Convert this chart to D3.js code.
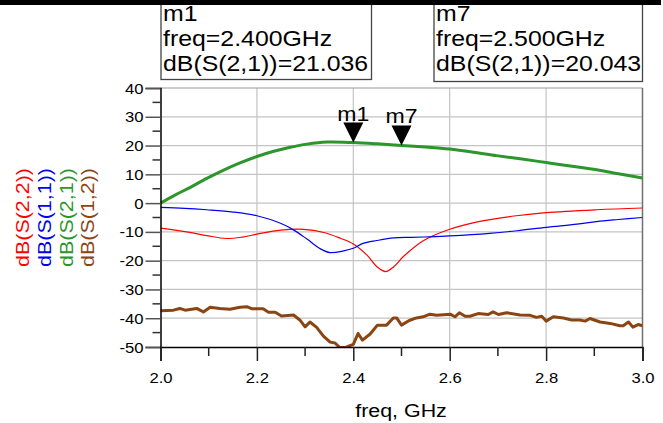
<!DOCTYPE html>
<html><head><meta charset="utf-8">
<script src="https://cdn.jsdelivr.net/npm/d3@7/dist/d3.min.js"></script>
<style>body{margin:0;background:#fff;overflow:hidden}svg{display:block}text{font-family:"Liberation Sans",Arial,sans-serif}</style>
</head><body><svg id="c" width="663" height="423"></svg>
<script>
// ---- data ----
const s21Freq = [2.0,2.03,2.061,2.096,2.131,2.165,2.2,2.235,2.269,2.304,2.345,2.4,2.45,2.5,2.55,2.6,2.65,2.697,2.75,2.8,2.85,2.905,2.95,3.0];
const s21 =     [0,2.8,5.4,8.6,11.5,14.0,16.2,18.0,19.4,20.5,21.2,21.036,20.6,20.043,19.5,18.8,17.7,16.5,15.3,14.1,12.9,11.6,10.2,8.7];
const s11Freq = [2.0,2.05,2.096,2.151,2.2,2.249,2.276,2.304,2.332,2.352,2.38,2.4,2.42,2.449,2.484,2.52,2.56,2.6,2.683,2.74,2.8,2.864,2.905,2.95,3.0];
const s11 =     [-1.5,-1.8,-2.3,-3.1,-4.4,-7.0,-9.3,-12.5,-15.9,-17.2,-16.6,-15.7,-14.0,-13.0,-12.1,-11.9,-11.7,-11.4,-10.5,-9.6,-8.4,-7.3,-6.4,-5.7,-5.0];
const s22Freq = [2.0,2.061,2.096,2.137,2.17,2.2,2.249,2.297,2.339,2.373,2.4,2.428,2.449,2.467,2.484,2.505,2.546,2.6,2.655,2.738,2.8,2.905,3.0];
const s22 =     [-8.7,-10.2,-11.3,-12.3,-11.8,-10.8,-9.4,-9.1,-10.2,-12.2,-14.2,-18.0,-22.1,-23.8,-22.1,-18.4,-13.0,-9.1,-6.6,-4.4,-3.3,-2.3,-1.7];
const s12Freq = [2.000,2.027,2.040,2.051,2.075,2.089,2.103,2.123,2.144,2.165,2.179,2.189,2.213,2.224,2.238,2.251,2.276,2.289,2.300,2.310,2.324,2.338,2.352,2.362,2.372,2.383,2.393,2.400,2.410,2.419,2.435,2.450,2.469,2.483,2.490,2.500,2.516,2.531,2.545,2.559,2.573,2.601,2.611,2.620,2.632,2.642,2.659,2.680,2.690,2.701,2.718,2.746,2.767,2.780,2.791,2.800,2.815,2.836,2.853,2.870,2.881,2.891,2.912,2.933,2.953,2.960,2.971,2.980,2.991,3.000];
const s12 =     [-37.4,-37.2,-36.6,-37.2,-36.6,-37.8,-36.2,-36.6,-36.9,-36.2,-36.0,-36.7,-36.7,-37.9,-37.9,-39.2,-38.9,-40.6,-43.0,-41.3,-43.2,-46.2,-48.3,-48.6,-50.2,-50.2,-49.5,-49.1,-45.3,-47.6,-45.5,-42.4,-42.4,-39.9,-39.9,-42.4,-40.8,-39.9,-39.5,-38.6,-39.0,-38.6,-39.5,-38.1,-39.3,-39.3,-38.4,-38.7,-37.8,-38.7,-38.1,-38.9,-39.0,-39.7,-39.3,-41.0,-39.5,-39.9,-40.6,-40.6,-41.0,-40.1,-41.3,-41.8,-42.6,-42.6,-41.3,-43.1,-42.2,-42.6];
const seriesNames = ["dB(S(2,2))","dB(S(1,1))","dB(S(2,1))","dB(S(1,2))"];
const seriesColors = ["#ff0000","#0000ee","#2c962c","#8b4513"];
const xTicks = [2.0,2.2,2.4,2.6,2.8,3.0];
const yTicks = [40,30,20,10,0,-10,-20,-30,-40,-50];
const markers = [{name:"m1",freq:2.4,val:21.036,label:"freq=2.400GHz",vlabel:"dB(S(2,1))=21.036"},
                 {name:"m7",freq:2.5,val:20.043,label:"freq=2.500GHz",vlabel:"dB(S(2,1))=20.043"}];

// ---- layout ----
const svg = d3.select("#c");
const L=160.5, R=642.5, T=88, B=347;
const x = d3.scaleLinear().domain([2,3]).range([L,R]);
const y = d3.scaleLinear().domain([-50,40]).range([B,T]);
function txt(g, px, py, s, size, anchor, color, rot, sx){
  const t = g.append("text").attr("transform",`translate(${px},${py})${rot?` rotate(${rot})`:""} scale(${sx||1.19},1)`)
    .attr("font-size",size).attr("text-anchor",anchor||"start").attr("fill",color||"#000").text(s);
  return t;
}

// top bar
svg.append("rect").attr("x",0).attr("y",0).attr("width",661).attr("height",5).attr("fill","#000");

// grid
const grid = svg.append("g");
grid.selectAll(".gx").data(xTicks.slice(1,-1)).join("line")
  .attr("x1",d=>x(d)).attr("x2",d=>x(d)).attr("y1",T).attr("y2",B).attr("stroke","#c4c4c4").attr("stroke-width",1.2);
grid.selectAll(".gy").data(yTicks.slice(1,-1)).join("line")
  .attr("x1",L).attr("x2",R).attr("y1",d=>y(d)).attr("y2",d=>y(d)).attr("stroke","#c4c4c4").attr("stroke-width",1.2);
// frame top/right
svg.append("line").attr("x1",L).attr("x2",R).attr("y1",T).attr("y2",T).attr("stroke","#9a9a9a").attr("stroke-width",1.2);
svg.append("line").attr("x1",R).attr("x2",R).attr("y1",T).attr("y2",B).attr("stroke","#707070").attr("stroke-width",1.5);

// clip
svg.append("clipPath").attr("id","clip").append("rect").attr("x",L).attr("y",T-2).attr("width",R-L).attr("height",B-T+3);
const plot = svg.append("g").attr("clip-path","url(#clip)");
function drawLine(fr, vals, color, w, curve){
  const pts = fr.map((f,i)=>[f,vals[i]]);
  const line = d3.line().x(d=>x(d[0])).y(d=>y(d[1])).curve(curve);
  plot.append("path").attr("d",line(pts)).attr("fill","none").attr("stroke",color).attr("stroke-width",w).attr("stroke-linejoin","round");
}
const smooth = d3.curveCatmullRom.alpha(0.5);
drawLine(s22Freq,s22,seriesColors[0],1.2,smooth);
drawLine(s11Freq,s11,seriesColors[1],1.2,smooth);
drawLine(s12Freq,s12,seriesColors[3],3,d3.curveLinear);
drawLine(s21Freq,s21,seriesColors[2],3,smooth);

// axes
const yAxis = d3.axisLeft(y).tickValues(yTicks).tickSize(15).tickFormat(d3.format("d"));
const gy = svg.append("g").attr("transform",`translate(${L},0)`).call(yAxis);
gy.select(".domain").attr("stroke","#000").attr("stroke-width",1.5);
gy.selectAll(".tick line").attr("stroke","#555").attr("stroke-width",1.5);
gy.selectAll(".tick text").remove();
gy.selectAll(".tick").each(function(d){ txt(d3.select(this), -17, 5, String(d), 14, "end"); });
const yMinor = d3.range(-45,40,10);
svg.append("g").selectAll("line").data(yMinor).join("line").attr("x1",L-8).attr("x2",L).attr("y1",d=>y(d)).attr("y2",d=>y(d)).attr("stroke","#333").attr("stroke-width",1.5);

const xAxis = d3.axisBottom(x).tickValues(xTicks).tickSize(14).tickFormat(d3.format(".1f"));
const gx = svg.append("g").attr("transform",`translate(0,${B})`).call(xAxis);
gx.select(".domain").attr("stroke","#000").attr("stroke-width",1.5);
gx.selectAll(".tick line").attr("stroke","#222").attr("stroke-width",1.5);
gx.selectAll(".tick text").remove();
gx.selectAll(".tick").each(function(d){ txt(d3.select(this), 0, 36, d3.format(".1f")(d), 14, "middle"); });
svg.append("g").selectAll("line").data(d3.range(2.1,3.0,0.2)).join("line").attr("x1",d=>x(d)).attr("x2",d=>x(d)).attr("y1",B).attr("y2",B+9).attr("stroke","#222").attr("stroke-width",1.5);

// axis title
txt(svg, 401, 417, "freq, GHz", 18, "middle");

// legend (rotated)
const legX = [23,45,67,88];
seriesNames.forEach((n,i)=>{
  const t = txt(svg, legX[i], 217.5, n, 18.5, "middle", seriesColors[i], -90, 1.16);
  t.attr("dy","0.35em");
});

// markers on plot
markers.forEach(m=>{
  const px = x(m.freq), py = y(m.val);
  svg.append("path").attr("d",`M${px},${py} L${px-10},${py-20} L${px+10},${py-20} Z`).attr("fill","#000");
  txt(svg, px, py-22, m.name, 21, "middle", "#000", 0, 1.1);
});

// marker readout boxes
const boxes = [{x0:161,x1:371.5,y1:79.5},{x0:434,x1:642.5,y1:81.5}];
markers.forEach((m,i)=>{
  const b = boxes[i];
  svg.append("rect").attr("x",b.x0).attr("y",-2).attr("width",b.x1-b.x0).attr("height",b.y1+2).attr("fill","#fff").attr("stroke","#444").attr("stroke-width",1.3);
  const g = svg.append("g");
  txt(g, b.x0+2, 20.8, m.name, 22, "start", "#000", 0, 1.13);
  txt(g, b.x0+2, 45.5, m.label, 22, "start", "#000", 0, 1.13);
  txt(g, b.x0+2, 71, m.vlabel, 22, "start", "#000", 0, 1.13);
});
// redraw top bar above boxes
svg.append("rect").attr("x",0).attr("y",0).attr("width",661).attr("height",5).attr("fill","#000");
</script></body></html>
